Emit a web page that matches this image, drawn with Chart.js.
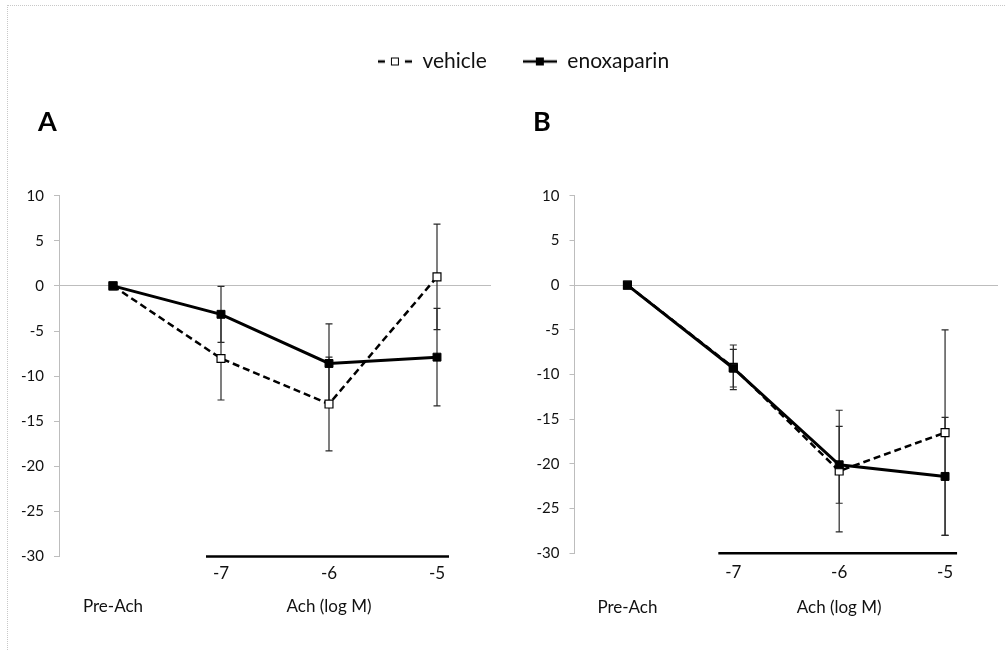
<!DOCTYPE html>
<html>
<head>
<meta charset="utf-8">
<script src="https://cdn.jsdelivr.net/npm/chart.js@4.4.0/dist/chart.umd.min.js"></script>
<style>
  body { margin: 0; background: #fff; width: 1005px; height: 650px; position: relative; overflow: hidden; }
  #frame { position: absolute; left: 7px; top: 5px; right: -2px; bottom: -2px;
           border-top: 1px dotted #c8c8c8; border-left: 1px dotted #c8c8c8; }
  .box { position: absolute; }
</style>
</head>
<body>
<div id="frame"></div>
<div class="box" style="left:0;top:15px;width:1005px;height:100px"><canvas id="legend"></canvas></div>
<div class="box" style="left:0;top:100px;width:500px;height:530px"><canvas id="panelA"></canvas></div>
<div class="box" style="left:505px;top:100px;width:500px;height:530px"><canvas id="panelB"></canvas></div>
<script>
const categories = ['Pre-Ach', '-7', '-6', '-5'];
const xAxisTitle = 'Ach (log M)';
const seriesNames = ['vehicle', 'enoxaparin'];
const yMin = -30, yMax = 10, yStep = 5;

// panel A
const vehicleA = [0, -8.05, -13.1, 1.0];
const vehicleAErr = [0, 4.6, 5.2, 5.85];
const enoxA = [0, -3.15, -8.6, -7.9];
const enoxAErr = [0, 3.1, 4.4, 5.4];

// panel B
const vehicleB = [0, -9.2, -20.8, -16.5];
const vehicleBErr = [0, 2.5, 6.8, 11.5];
const enoxB = [0, -9.3, -20.1, -21.4];
const enoxBErr = [0, 2.1, 4.3, 6.6];

const FONT = 'Lato, "Open Sans", sans-serif';
const AXIS_GREY = '#bdbdbd';

// error bars, drawn under the lines and markers
const errorBars = {
  id: 'errorBars',
  beforeDatasetsDraw(chart) {
    const { ctx, scales: { x, y } } = chart;
    ctx.save();
    ctx.strokeStyle = '#2a2a2a';
    ctx.lineWidth = 1.2;
    chart.data.datasets.forEach(ds => {
      if (!ds.errors) return;
      ds.errors.forEach((e, i) => {
        if (!e) return;
        const px = x.getPixelForValue(i);
        const top = y.getPixelForValue(ds.data[i] + e);
        const bot = y.getPixelForValue(ds.data[i] - e);
        ctx.beginPath();
        ctx.moveTo(px, top); ctx.lineTo(px, bot);
        ctx.moveTo(px - 3.5, top); ctx.lineTo(px + 3.5, top);
        ctx.moveTo(px - 3.5, bot); ctx.lineTo(px + 3.5, bot);
        ctx.stroke();
      });
    });
    ctx.restore();
  }
};

// black bar under the dose categories
const doseBar = {
  id: 'doseBar',
  afterDraw(chart) {
    const { ctx, chartArea, scales: { x } } = chart;
    const x0 = x.getPixelForValue(1) - 15;
    const x1 = x.getPixelForValue(categories.length - 1) + 12;
    ctx.save();
    ctx.strokeStyle = '#000';
    ctx.lineWidth = 2.5;
    ctx.beginPath();
    ctx.moveTo(x0, chartArea.bottom);
    ctx.lineTo(x1, chartArea.bottom);
    ctx.stroke();
    ctx.restore();
  }
};

const panelLabel = {
  id: 'panelLabel',
  afterDraw(chart, args, opts) {
    const ctx = chart.ctx;
    ctx.save();
    ctx.font = 'bold 27px ' + FONT;
    ctx.fillStyle = '#000';
    ctx.textBaseline = 'middle';
    ctx.fillText(opts.text, opts.x, opts.y);
    ctx.restore();
  }
};

function makePanel(id, label, vehicle, vehicleErr, enox, enoxErr, lay) {
  new Chart(document.getElementById(id), {
    type: 'line',
    data: {
      labels: categories,
      datasets: [
        {
          label: seriesNames[0],
          data: vehicle,
          errors: vehicleErr,
          borderColor: '#000',
          borderWidth: 2.5,
          borderDash: [7, 4],
          pointStyle: 'rect',
          pointRadius: 5.6,
          pointBackgroundColor: '#fff',
          pointBorderColor: '#000',
          pointBorderWidth: 1.2,
          order: 1
        },
        {
          label: seriesNames[1],
          data: enox,
          errors: enoxErr,
          borderColor: '#000',
          borderWidth: 3,
          pointStyle: 'rect',
          pointRadius: 5.6,
          pointBackgroundColor: '#000',
          pointBorderColor: '#000',
          pointBorderWidth: 1,
          order: 0
        }
      ]
    },
    options: {
      responsive: true,
      maintainAspectRatio: false,
      animation: false,
      layout: { padding: lay.padding },
      scales: {
        x: {
          offset: true,
          grid: { display: false, drawTicks: false },
          border: { display: false },
          ticks: {
            color: '#111',
            padding: lay.xPad,
            maxRotation: 0,
            autoSkip: false,
            font: { family: FONT, size: 17, lineHeight: lay.xLine },
            callback: function (value, index) {
              const t = categories[index];
              if (index === 0) return ['', '', t];
              if (index === 2) return [t, '', xAxisTitle];
              return t;
            }
          },
          afterFit(scale) { scale.height = lay.xHeight; }
        },
        y: {
          min: yMin,
          max: yMax,
          grid: {
            drawOnChartArea: true,
            color: ctx => (ctx.tick && ctx.tick.value === 0 ? AXIS_GREY : 'rgba(0,0,0,0)'),
            tickColor: AXIS_GREY,
            tickLength: 5,
            lineWidth: 1
          },
          border: { display: true, color: AXIS_GREY, width: 1 },
          ticks: {
            stepSize: yStep,
            color: '#111',
            padding: 10,
            font: { family: FONT, size: 15 }
          },
          afterFit(scale) { scale.width = lay.yWidth; }
        }
      },
      plugins: {
        legend: { display: false },
        tooltip: { enabled: false },
        panelLabel: { text: label, x: lay.labelX, y: 22 }
      }
    },
    plugins: [errorBars, doseBar, panelLabel]
  });
}

makePanel('panelA', 'A', vehicleA, vehicleAErr, enoxA, enoxAErr, {
  padding: { top: 95.7, left: 0, right: 9, bottom: 0 },
  yWidth: 59, xHeight: 73.5, xPad: 9, xLine: 0.96, labelX: 38
});
makePanel('panelB', 'B', vehicleB, vehicleBErr, enoxB, enoxBErr, {
  padding: { top: 95.7, left: 0, right: 7, bottom: 0 },
  yWidth: 69.5, xHeight: 76.7, xPad: 10, xLine: 1.05, labelX: 28
});

// legend icons: line with a square marker in the middle
function legendIcon(dashed, filled) {
  const c = document.createElement('canvas');
  c.width = 34; c.height = 12;
  const g = c.getContext('2d');
  g.strokeStyle = '#000';
  g.lineWidth = 2.5;
  if (dashed) g.setLineDash([7, 20]);
  g.beginPath(); g.moveTo(0, 6); g.lineTo(34, 6); g.stroke();
  g.setLineDash([]);
  g.fillStyle = filled ? '#000' : '#fff';
  g.fillRect(13, 2, 8, 8);
  g.lineWidth = 1;
  g.strokeRect(13.5, 2.5, 7, 7);
  return c;
}
const icons = [legendIcon(true, false), legendIcon(false, true)];

new Chart(document.getElementById('legend'), {
  type: 'line',
  data: { labels: [], datasets: seriesNames.map(n => ({ label: n, data: [] })) },
  options: {
    responsive: true,
    maintainAspectRatio: false,
    animation: false,
    layout: { padding: { left: 42, top: 0 } },
    scales: { x: { display: false }, y: { display: false } },
    plugins: {
      tooltip: { enabled: false },
      legend: {
        display: true,
        position: 'top',
        align: 'center',
        maxHeight: 100,
        labels: {
          usePointStyle: true,
          pointStyleWidth: 34,
          padding: 36,
          color: '#111',
          font: { family: FONT, size: 21 },
          generateLabels: chart => chart.data.datasets.map((ds, i) => ({
            text: ds.label,
            pointStyle: icons[i],
            fillStyle: '#000',
            strokeStyle: '#000',
            lineWidth: 0,
            hidden: false,
            datasetIndex: i,
            fontColor: '#111'
          }))
        }
      }
    }
  }
});
</script>
</body>
</html>
